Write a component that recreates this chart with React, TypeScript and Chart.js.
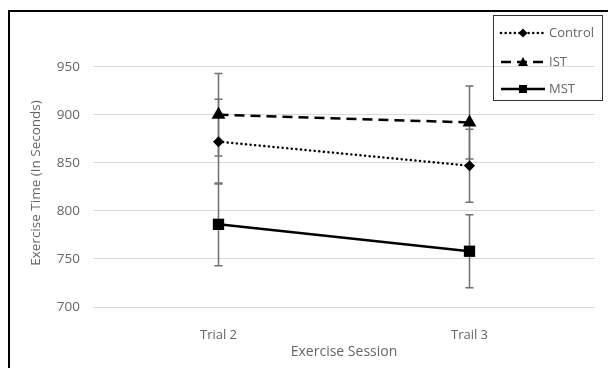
import React, { useEffect, useRef } from "react";
import { Chart, registerables } from "chart.js";

Chart.register(...registerables);

const categories = ["Trial 2", "Trail 3"];
const controlValues = [872, 847];
const controlErrors = [44, 38];
const istValues = [900, 892];
const istErrors = [43, 38];
const mstValues = [786, 758];
const mstErrors = [43, 38];
const yTicks = [700, 750, 800, 850, 900, 950];

const FONT = "'Open Sans', 'DejaVu Sans', sans-serif";
const TEXT = "#666666";

const errorBars = {
  id: "errorBars",
  beforeDatasetsDraw(chart: any) {
    const ctx = chart.ctx;
    const y = chart.scales.y;
    ctx.save();
    ctx.strokeStyle = "#707070";
    ctx.lineWidth = 1.5;
    chart.data.datasets.forEach((ds: any, di: number) => {
      const meta = chart.getDatasetMeta(di);
      meta.data.forEach((pt: any, i: number) => {
        const v = ds.data[i];
        const e = ds.errors[i];
        const yt = y.getPixelForValue(v + e);
        const yb = y.getPixelForValue(v - e);
        const x = pt.x;
        ctx.beginPath();
        ctx.moveTo(x, yt);
        ctx.lineTo(x, yb);
        ctx.moveTo(x - 4, yt);
        ctx.lineTo(x + 4, yt);
        ctx.moveTo(x - 4, yb);
        ctx.lineTo(x + 4, yb);
        ctx.stroke();
      });
    });
    ctx.restore();
  },
};

const frameAndLegend = {
  id: "frameAndLegend",
  afterDraw(chart: any) {
    const ctx = chart.ctx;
    ctx.save();
    // outer frame (cropped)
    ctx.fillStyle = "#000";
    ctx.fillRect(8, 10, 600, 2);
    ctx.fillRect(8, 10, 2, 358);
    // legend box
    const bx = 493.5, by = 15.5, bw = 109, bh = 85;
    ctx.strokeStyle = "#333";
    ctx.lineWidth = 1;
    ctx.strokeRect(bx, by, bw, bh);
    const rows = [33, 62, 89];
    const labels = chart.data.datasets.map((d: any) => d.label);
    chart.data.datasets.forEach((ds: any, i: number) => {
      const ry = rows[i];
      ctx.save();
      ctx.strokeStyle = "#000";
      ctx.lineWidth = ds.borderWidth || 2;
      ctx.lineCap = ds.borderCapStyle || "butt";
      ctx.setLineDash(ds.borderDash || []);
      ctx.beginPath();
      ctx.moveTo(501, ry);
      ctx.lineTo(545, ry);
      ctx.stroke();
      ctx.restore();
      ctx.save();
      ctx.fillStyle = "#000";
      const mx = 523;
      if (ds.pointStyle === "rectRot") {
        ctx.beginPath();
        ctx.moveTo(mx, ry - 4.5);
        ctx.lineTo(mx + 4.5, ry);
        ctx.lineTo(mx, ry + 4.5);
        ctx.lineTo(mx - 4.5, ry);
        ctx.closePath();
        ctx.fill();
      } else if (ds.pointStyle === "triangle") {
        ctx.beginPath();
        ctx.moveTo(mx, ry - 5);
        ctx.lineTo(mx + 5, ry + 4);
        ctx.lineTo(mx - 5, ry + 4);
        ctx.closePath();
        ctx.fill();
      } else {
        ctx.fillRect(mx - 4, ry - 4, 8, 8);
      }
      ctx.restore();
      ctx.fillStyle = TEXT;
      ctx.font = `13px ${FONT}`;
      ctx.textBaseline = "middle";
      ctx.textAlign = "left";
      ctx.fillText(labels[i], 549, ry);
    });
    ctx.restore();
  },
};

export default function App() {
  const ref = useRef<HTMLCanvasElement | null>(null);
  useEffect(() => {
    if (!ref.current) return;
    const common = {
      borderColor: "#000",
      backgroundColor: "#000",
      pointBackgroundColor: "#000",
      pointBorderColor: "#000",
      borderWidth: 2.5,
      pointBorderWidth: 0,
      tension: 0,
    };
    const chart = new Chart(ref.current, {
      type: "line",
      data: {
        labels: categories,
        datasets: [
          {
            ...common,
            label: "Control",
            data: controlValues,
            errors: controlErrors,
            borderDash: [0.1, 4.5],
            borderCapStyle: "round",
            pointStyle: "rectRot",
            pointRadius: 5.5,
          } as any,
          {
            ...common,
            label: "IST",
            data: istValues,
            errors: istErrors,
            borderDash: [10, 6],
            pointStyle: "triangle",
            pointRadius: 8,
          } as any,
          {
            ...common,
            label: "MST",
            data: mstValues,
            errors: mstErrors,
            pointStyle: "rect",
            pointRadius: 8,
          } as any,
        ],
      },
      options: {
        responsive: false,
        animation: false,
        events: [],
        layout: { padding: { left: 28, right: 13, top: 59, bottom: 8 } },
        plugins: { legend: { display: false }, tooltip: { enabled: false } },
        scales: {
          x: {
            offset: true,
            grid: { display: false },
            border: { display: false },
            ticks: { color: TEXT, font: { family: FONT, size: 13 }, padding: 12 },
            title: {
              display: true,
              text: "Exercise Session",
              color: TEXT,
              font: { family: FONT, size: 14 },
              padding: { top: 0, bottom: 0 },
            },
            afterFit: (s: any) => {
              s.height = 53;
            },
          },
          y: {
            min: 700,
            max: 958,
            afterBuildTicks: (s: any) => {
              s.ticks = yTicks.map((v) => ({ value: v }));
            },
            grid: { color: "#d9d9d9", lineWidth: 1, drawTicks: false },
            border: { display: false },
            ticks: { color: TEXT, font: { family: FONT, size: 13.5 }, padding: 13 },
            title: {
              display: true,
              text: "Exercise Time (In Seconds)",
              color: TEXT,
              font: { family: FONT, size: 13.5 },
              padding: { top: 0, bottom: 0 },
            },
            afterFit: (s: any) => {
              s.width = 65;
            },
          },
        },
      } as any,
      plugins: [errorBars, frameAndLegend],
    });
    return () => chart.destroy();
  }, []);
  return (
    <div style={{ position: "fixed", left: 0, top: 0, width: 608, height: 368, background: "#fff" }}>
      <canvas ref={ref} width={608} height={368} style={{ width: 608, height: 368, display: "block" }} />
    </div>
  );
}
